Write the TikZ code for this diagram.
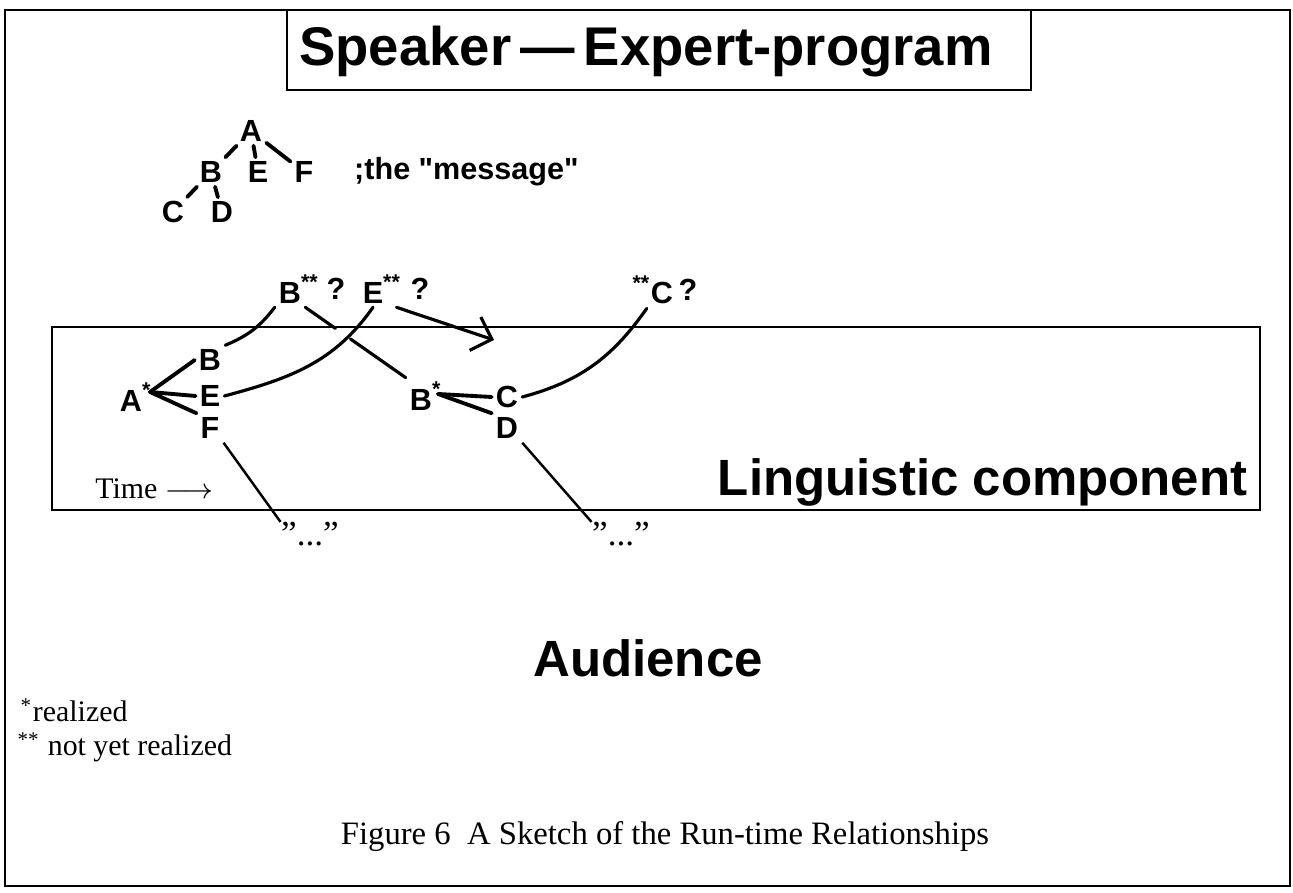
\documentclass[tikz,border=0pt]{standalone}
\usepackage{fontspec}
\setmainfont{Liberation Serif}
\setsansfont{Liberation Sans}
\usetikzlibrary{arrows.meta, calc}

\tikzset{
  lbl/.style={font=\sffamily\bfseries\fontsize{8.7}{10}\selectfont, inner sep=1pt},
  branch/.style={line width=1.1pt, line cap=round},
  link/.style={line width=0.9pt, line cap=round},
  frame/.style={line width=0.8pt},
  quot/.style={font=\fontsize{10}{11}\selectfont, inner sep=0pt, anchor=base},
}

\begin{document}
\begin{tikzpicture}
\useasboundingbox (0,0) rectangle (12.93,-8.93);

% outer frame and title box
\draw[frame] (0.05,-0.10) rectangle (12.90,-8.86);
\draw[frame] (2.87,-0.10) rectangle (10.31,-0.90);
\node[font=\sffamily\bfseries\fontsize{15.5}{18}\selectfont] (title) at (6.46,-0.52) {Speaker\,—\,Expert-program};

% the message tree
\node[lbl] (mA) at (2.51,-1.31) {A};
\node[lbl] (mB) at (2.11,-1.72) {B};
\node[lbl] (mE) at (2.58,-1.72) {E};
\node[lbl] (mF) at (3.04,-1.72) {F};
\node[lbl] (mC) at (1.73,-2.12) {C};
\node[lbl] (mD) at (2.22,-2.12) {D};
\node[lbl, anchor=west] (msg) at (3.50,-1.72) {;the \textquotedbl message\textquotedbl};

\draw[branch] (mA)--(mB);
\draw[branch] (mA)--(mE);
\draw[branch] (mA)--(mF);
\draw[branch] (mB)--(mC);
\draw[branch] (mB)--(mD);

% pending items
\node[lbl] (bq) at (2.90,-2.89) {B\rlap{\textsuperscript{**}}};
\node[lbl] (q1) at (3.36,-2.89) {?};
\node[lbl] (eq) at (3.73,-2.89) {E\rlap{\textsuperscript{**}}};
\node[lbl] (q2) at (4.20,-2.89) {?};
\node[lbl] (cq) at (6.62,-2.90) {\llap{\textsuperscript{**}}C};
\node[lbl] (q3) at (6.88,-2.90) {?};

% linguistic component
\draw[frame] (0.52,-3.27) rectangle (12.60,-5.10);

\node[lbl] (la) at (1.31,-3.97) {A\rlap{\textsuperscript{*}}};
\node[lbl] (lb) at (2.10,-3.60) {B};
\node[lbl] (le) at (2.10,-3.96) {E};
\node[lbl] (lf) at (2.10,-4.28) {F};
\node[lbl] (bs) at (4.21,-3.96) {B\rlap{\textsuperscript{*}}};
\node[lbl] (lc) at (5.07,-3.97) {C};
\node[lbl] (ld) at (5.07,-4.28) {D};

\coordinate (afork) at (1.50,-3.92);
\coordinate (bfork) at (4.38,-3.94);
\draw[branch] (afork)--(lb.west);
\draw[branch] (afork)--(le.west);
\draw[branch] (afork)--(lf.north west);
\draw[branch] (bfork)--(lc.west);
\draw[branch] (bfork)--(ld.north west);

\draw[link] (lb.north east) to[bend right=15] (bq.south west);
\draw[link] (le.east) to[out=15,in=235] (eq.south);
\draw[link] (lc.east) to[out=15,in=235] (cq.south west);

\draw[link] (bq.south east)--($(bq.south east)!0.3!(bs.north west)$);
\draw[link] ($(bq.south east)!0.45!(bs.north west)$)--(bs.north west);

\coordinate (tend) at (4.94,-3.40);
\draw[link, -{Straight Barb[length=5pt]}] ([xshift=0.09cm]eq.south east)--(tend);

\node[quot] (qf) at (3.10,-5.46) {”...”};
\node[quot] (qd) at (6.21,-5.46) {”...”};
\draw[line width=0.7pt] (lf.south east)--(qf.north west);
\draw[line width=0.7pt] (ld.south east)--(qd.north west);

\node[font=\fontsize{8.5}{10}\selectfont, anchor=base west] (time) at (0.83,-4.99) {Time $\longrightarrow$};
\node[font=\sffamily\bfseries\fontsize{14.5}{17}\selectfont, anchor=base east, inner sep=0pt] (ling) at (12.48,-4.96) {Linguistic component};

\node[font=\sffamily\bfseries\fontsize{14.5}{17}\selectfont, anchor=base, inner sep=0pt] (aud) at (6.48,-6.77) {Audience};

% legend
\node[font=\fontsize{8.5}{10}\selectfont, anchor=base west, inner sep=0pt] (leg1) at (0.20,-7.22) {\textsuperscript{*}realized};
\node[font=\fontsize{8.5}{10}\selectfont, anchor=base west, inner sep=0pt] (leg2) at (0.17,-7.56) {\textsuperscript{**}\ not yet realized};

\node[font=\fontsize{9.3}{11}\selectfont, anchor=base] (cap) at (6.65,-8.45) {Figure 6\ \ A Sketch of the Run-time Relationships};

\end{tikzpicture}
\end{document}
